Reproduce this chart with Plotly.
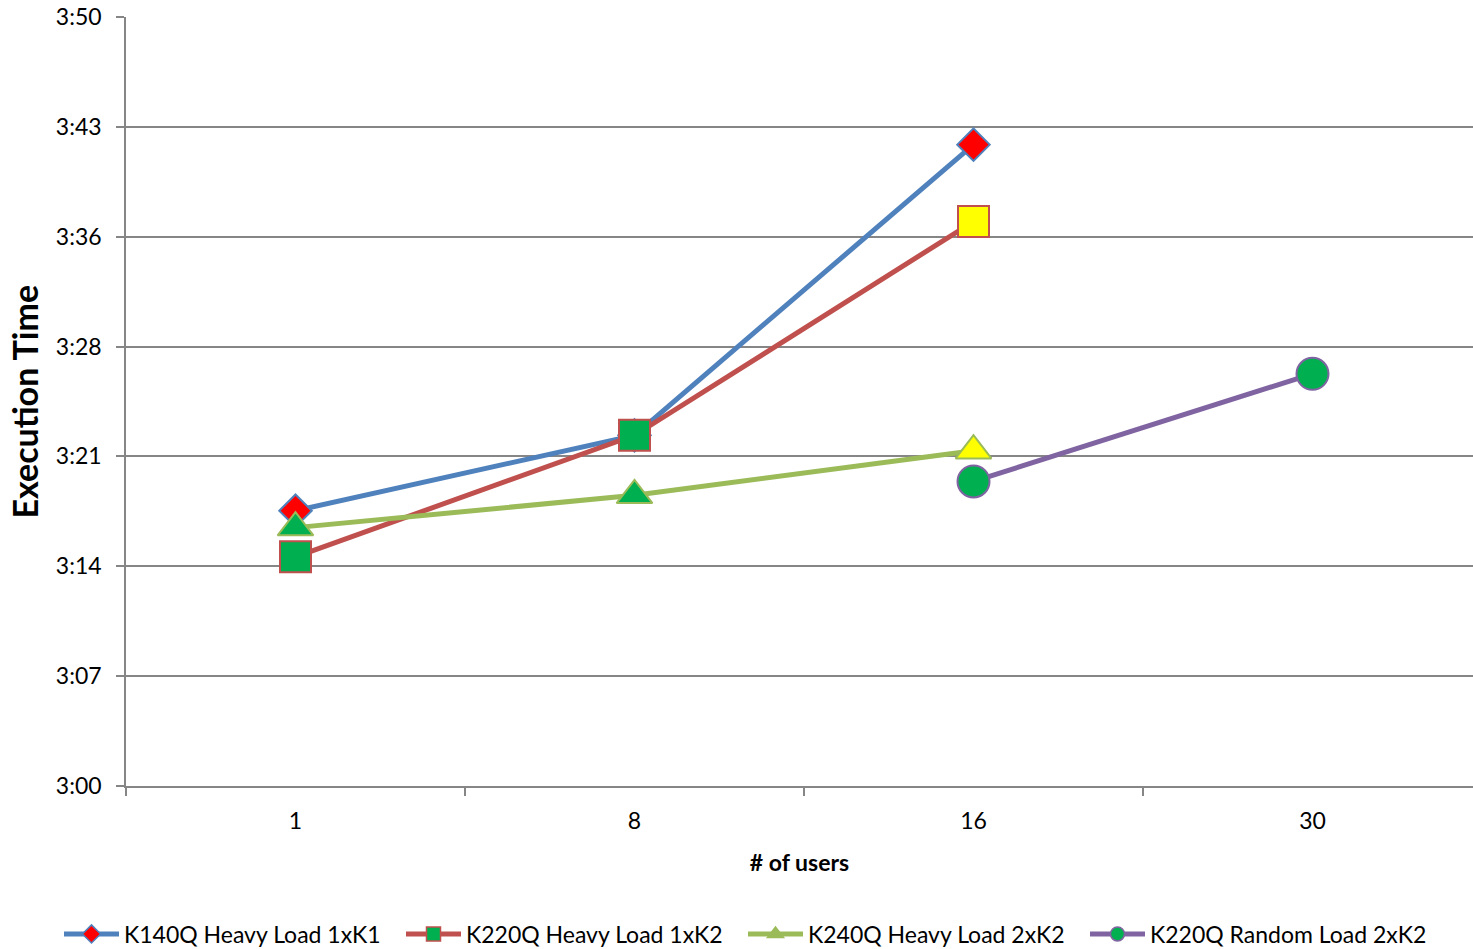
import plotly.graph_objects as go

# Number of concurrent users (category axis)
users = ["1", "8", "16", "30"]

# Execution times in seconds
k140q_heavy_1xk1 = [197.9, 202.8, 221.7]
k220q_heavy_1xk2 = [194.9, 202.8, 216.7]
k240q_heavy_2xk2 = [196.8, 198.9, 201.8]
k220q_random_2xk2 = [199.8, 206.8]

series_names = [
    "K140Q Heavy Load 1xK1",
    "K220Q Heavy Load 1xK2",
    "K240Q Heavy Load 2xK2",
    "K220Q Random Load 2xK2",
]

# y-axis: 3:00 .. 3:50 split into seven equal steps
y_min, y_max, n_steps = 180.0, 230.0, 7
y_ticks = [y_min + (y_max - y_min) * k / n_steps for k in range(n_steps + 1)]
y_ticklabels = ["3:00", "3:07", "3:14", "3:21", "3:28", "3:36", "3:43", "3:50"]

FONT = "Lato, 'Open Sans', sans-serif"
GREY = "#868686"
BLUE, RED, OLIVE, PURPLE = "#4F81BD", "#C0504D", "#9BBB59", "#8064A2"
GREEN, YELLOW, PURE_RED = "#00B050", "#FFFF00", "#FF0000"

PLOT_L, PLOT_T, PLOT_W, PLOT_H = 126, 17, 1347, 769

fig = go.Figure()

styles = [
    dict(x=users[:3], y=k140q_heavy_1xk1, line=BLUE, symbol="diamond", size=25,
         fill=[PURE_RED] * 3, edge=BLUE, leg_fill=PURE_RED),
    dict(x=users[:3], y=k220q_heavy_1xk2, line=RED, symbol="square", size=31,
         fill=[GREEN, GREEN, YELLOW], edge=RED, leg_fill=GREEN),
    dict(x=users[:3], y=k240q_heavy_2xk2, line=OLIVE, symbol="triangle-up", size=31,
         fill=[GREEN, GREEN, YELLOW], edge=OLIVE, leg_fill=OLIVE),
    dict(x=users[2:], y=k220q_random_2xk2, line=PURPLE, symbol="circle", size=32,
         fill=[GREEN, GREEN], edge=PURPLE, leg_fill=GREEN),
]

for name, st in zip(series_names, styles):
    fig.add_trace(go.Scatter(
        x=st["x"], y=st["y"], mode="lines+markers", name=name, showlegend=False,
        line=dict(color=st["line"], width=5),
        marker=dict(symbol=st["symbol"], size=st["size"], color=st["fill"],
                    line=dict(color=st["edge"], width=2)),
        cliponaxis=False,
    ))

# legend entries
for name, st in zip(series_names, styles):
    fig.add_trace(go.Scatter(
        x=[None], y=[None], mode="lines+markers", name=name,
        line=dict(color=st["line"], width=5),
        marker=dict(symbol=st["symbol"], size=14, color=st["leg_fill"],
                    line=dict(color=st["edge"], width=1.5)),
    ))

fig.update_layout(
    width=1473, height=949,
    margin=dict(l=PLOT_L, r=0, t=PLOT_T, b=949 - PLOT_T - PLOT_H, autoexpand=False),
    paper_bgcolor="white", plot_bgcolor="white",
    font=dict(family=FONT, size=23, color="#000000"),
    showlegend=True,
    legend=dict(orientation="h",
                x=(59 - PLOT_L) / PLOT_W, xref="paper", xanchor="left",
                y=-(934 - PLOT_T - PLOT_H) / PLOT_H, yref="paper", yanchor="middle",
                font=dict(size=23), itemwidth=55, entrywidth=272,
                tracegroupgap=0, bgcolor="rgba(0,0,0,0)"),
    xaxis=dict(
        type="category", categoryorder="array", categoryarray=users,
        range=[-0.5, -0.5 + PLOT_W / 339], tickson="boundaries",
        ticks="outside", ticklen=8, tickwidth=1.5, tickcolor=GREY,
        showline=True, linecolor=GREY, linewidth=1.5,
        showgrid=False, zeroline=False,
        tickfont=dict(size=23), ticklabelstandoff=14,
        title=dict(text="<b># of users</b>", font=dict(size=23), standoff=22),
    ),
    yaxis=dict(
        range=[y_min, y_max], tickmode="array", tickvals=y_ticks,
        ticktext=y_ticklabels,
        ticks="outside", ticklen=8, tickwidth=1.5, tickcolor=GREY,
        showline=True, linecolor=GREY, linewidth=1.5,
        showgrid=True, gridcolor=GREY, gridwidth=1.5, zeroline=False,
        tickfont=dict(size=23), ticklabelstandoff=10,
    ),
    annotations=[dict(
        text="<b>Execution Time</b>", textangle=-90,
        xref="paper", x=(24 - PLOT_L) / PLOT_W, xanchor="center",
        yref="paper", y=0.5, yanchor="middle", showarrow=False,
        font=dict(size=34, family=FONT),
    )],
)

fig.write_html("out.html")
